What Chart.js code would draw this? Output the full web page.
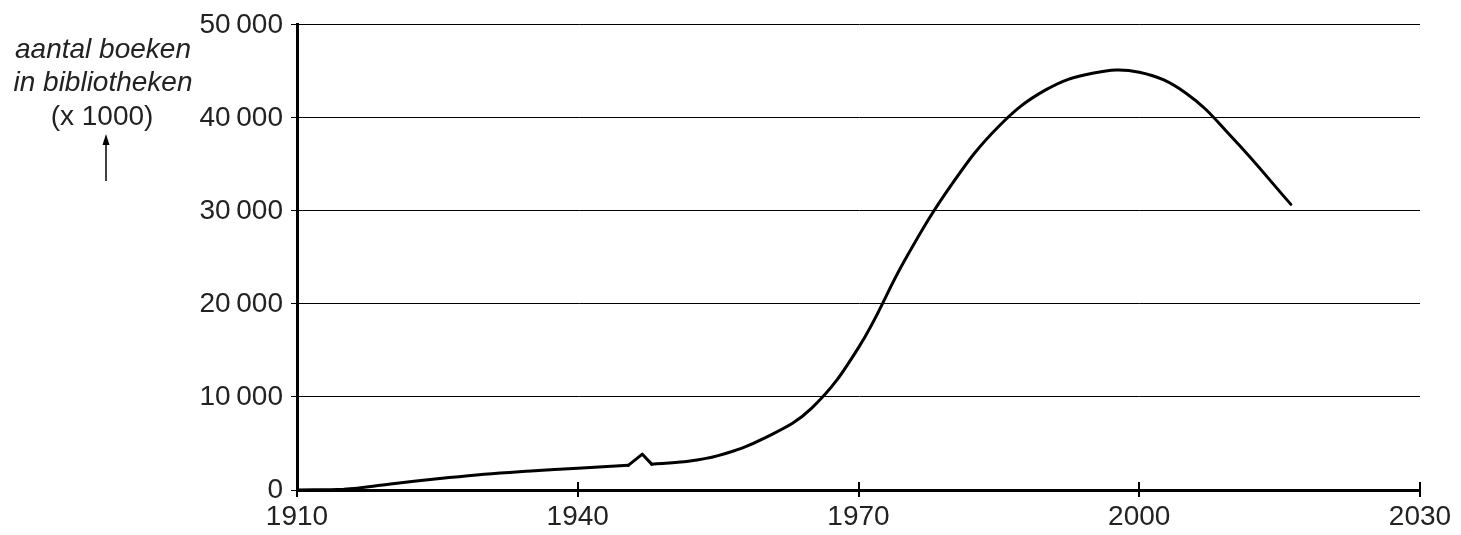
<html>
<head>
    <meta charset="utf-8">
    <script src="https://cdn.jsdelivr.net/npm/chart.js@4/dist/chart.umd.min.js"></script>
    <style>
        *{padding:0; margin:0; background-color: #fff;}
        #wrap{width:1461px; height:535px; position:relative;}
    </style>
</head>
<body>
    <div id="wrap"><canvas id="chart"></canvas></div>
    <script>
        // jaartallen en aantal boeken (x 1000)
        var years = [1910, 1915, 1920, 1925, 1930, 1935, 1940, 1945.4, 1946.9, 1947.9, 1951, 1955, 1960, 1965, 1970, 1975, 1980, 1985, 1990, 1995, 2000, 2005, 2010, 2016.2];
        var books = [0, 80, 650, 1200, 1700, 2050, 2350, 2650, 3850, 2780, 3000, 3700, 5600, 8800, 15300, 24800, 32900, 39100, 43000, 44800, 44900, 42650, 37800, 30700];
        // het piekje rond 1946-1947 is hoekig getekend
        var spikeFrom = 7, spikeTo = 9;
        var xTicks = [1910, 1940, 1970, 2000, 2030];
        var yTicks = [0, 10000, 20000, 30000, 40000, 50000];
        var titleLines = ["aantal boeken", "in bibliotheken", "(x 1000)"];

        var FONT = "'Liberation Sans', Arial, Helvetica, sans-serif";

        function pts(a, b) {
            var out = [];
            for (var i = a; i <= b; i++) out.push({x: years[i], y: books[i]});
            return out;
        }

        // kruisende streepjes op de x-as en de as-titel links
        var extras = {
            id: 'extras',
            afterDraw: function(chart) {
                var c = chart.ctx, xs = chart.scales.x, bottom = chart.chartArea.bottom;
                c.save();
                c.strokeStyle = '#000';
                c.lineWidth = 2;
                xTicks.forEach(function(t) {
                    var px = Math.round(xs.getPixelForValue(t));
                    c.beginPath();
                    c.moveTo(px, bottom - 8);
                    c.lineTo(px, bottom + 7);
                    c.stroke();
                });
                c.fillStyle = '#222';
                c.textAlign = 'center';
                c.textBaseline = 'middle';
                c.font = 'italic 28px ' + FONT;
                c.fillText(titleLines[0], 103, 50);
                c.fillText(titleLines[1], 103, 83);
                c.font = '28px ' + FONT;
                c.fillText(titleLines[2], 102, 117);
                // pijltje omhoog
                c.lineWidth = 1.5;
                c.strokeStyle = '#000';
                c.beginPath();
                c.moveTo(106, 181);
                c.lineTo(106, 138);
                c.stroke();
                c.fillStyle = '#000';
                c.beginPath();
                c.moveTo(106, 134);
                c.lineTo(102.5, 145);
                c.lineTo(109.5, 145);
                c.closePath();
                c.fill();
                c.restore();
            }
        };

        function lineSet(data, smooth) {
            return {
                data: data,
                borderColor: '#000',
                borderWidth: 3,
                borderCapStyle: 'round',
                borderJoinStyle: 'round',
                pointRadius: 0,
                fill: false,
                tension: smooth ? 0.4 : 0
            };
        }

        var config = {
            type: 'line',
            data: {
                datasets: [
                    lineSet(pts(0, spikeFrom), true),
                    lineSet(pts(spikeFrom, spikeTo), false),
                    lineSet(pts(spikeTo, years.length - 1), true)
                ]
            },
            options: {
                responsive: true,
                maintainAspectRatio: false,
                animation: false,
                layout: {padding: {top: 23, right: 41, left: 0, bottom: 0}},
                plugins: {legend: {display: false}, tooltip: {enabled: false}},
                scales: {
                    x: {
                        type: 'linear',
                        min: 1910,
                        max: 2030,
                        afterBuildTicks: function(s) { s.ticks = xTicks.map(function(v) { return {value: v}; }); },
                        afterFit: function(s) { s.height = 45; },
                        ticks: {
                            color: '#222',
                            font: {family: FONT, size: 28},
                            padding: 3,
                            maxRotation: 0,
                            callback: function(v) { return String(v); }
                        },
                        grid: {drawOnChartArea: false, drawTicks: true, tickLength: 7, color: 'rgba(0,0,0,0)'},
                        border: {color: '#000', width: 3}
                    },
                    y: {
                        min: 0,
                        max: 50000,
                        afterBuildTicks: function(s) { s.ticks = yTicks.map(function(v) { return {value: v}; }); },
                        afterFit: function(s) { s.width = 297; },
                        ticks: {
                            color: '#222',
                            font: {family: FONT, size: 28},
                            padding: 8,
                            callback: function(v) {
                                return String(v).replace(/\B(?=(\d{3})+(?!\d))/g, '\u2009');
                            }
                        },
                        grid: {color: '#000', lineWidth: 1, tickLength: 6},
                        border: {color: '#000', width: 3}
                    }
                }
            },
            plugins: [extras]
        };

        var chart = new Chart(document.getElementById('chart').getContext('2d'), config);
    </script>
</body>
</html>
